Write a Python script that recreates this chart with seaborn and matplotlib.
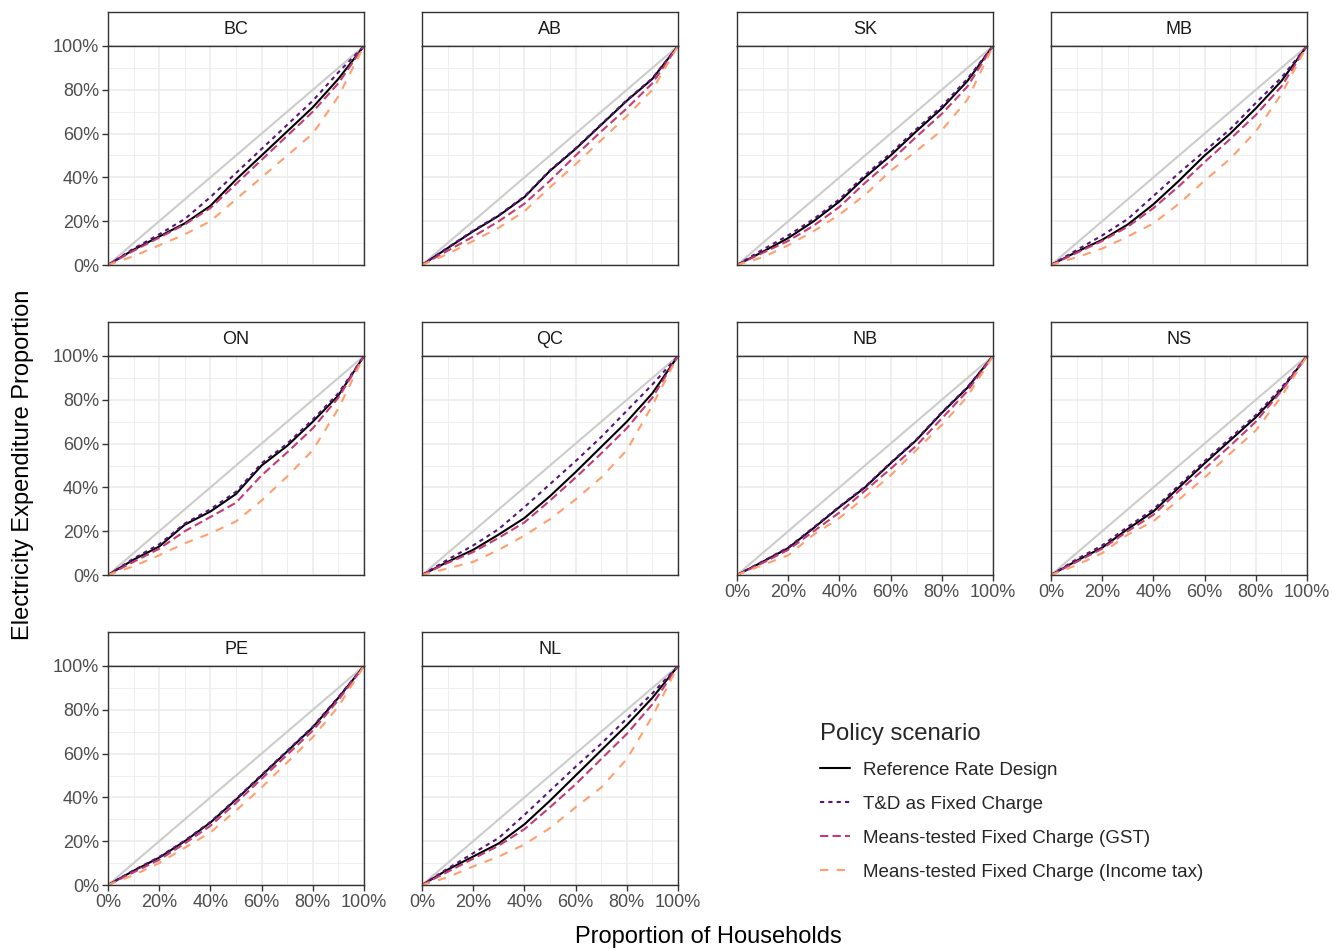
import numpy as np
import pandas as pd
import matplotlib
matplotlib.use("Agg")
import matplotlib.pyplot as plt
from matplotlib.ticker import PercentFormatter, MultipleLocator
from matplotlib.colors import to_hex
import seaborn as sns

# ---------------- data ----------------
provinces = ["BC", "AB", "SK", "MB", "ON", "QC", "NB", "NS", "PE", "NL"]
household_share = [0.0, 0.1, 0.2, 0.3, 0.4, 0.5, 0.6, 0.7, 0.8, 0.9, 1.0]
scenarios = ["Reference Rate Design", "T&D as Fixed Charge",
             "Means-tested Fixed Charge (GST)", "Means-tested Fixed Charge (Income tax)"]

reference = {
    "BC": [0, .07, .13, .19, .27, .39, .50, .61, .72, .85, 1],
    "AB": [0, .077, .154, .225, .31, .43, .53, .64, .75, .85, 1],
    "SK": [0, .06, .123, .20, .29, .40, .50, .61, .715, .84, 1],
    "MB": [0, .06, .115, .185, .277, .385, .50, .60, .715, .84, 1],
    "ON": [0, .07, .13, .23, .29, .37, .50, .59, .70, .82, 1],
    "QC": [0, .06, .115, .185, .26, .36, .47, .585, .70, .83, 1],
    "NB": [0, .06, .123, .215, .31, .40, .51, .615, .74, .855, 1],
    "NS": [0, .065, .125, .21, .29, .40, .51, .615, .72, .845, 1],
    "PE": [0, .065, .125, .20, .285, .39, .50, .61, .72, .855, 1],
    "NL": [0, .07, .13, .19, .277, .385, .50, .615, .73, .855, 1],
}
td_fixed = {
    "BC": [0, .075, .14, .21, .31, .42, .53, .64, .75, .88, 1],
    "AB": [0, .079, .157, .228, .313, .433, .533, .643, .753, .853, 1],
    "SK": [0, .07, .135, .21, .30, .41, .51, .62, .725, .85, 1],
    "MB": [0, .068, .135, .21, .315, .42, .52, .62, .74, .855, 1],
    "ON": [0, .075, .14, .235, .30, .38, .51, .60, .71, .83, 1],
    "QC": [0, .07, .135, .21, .31, .415, .52, .63, .75, .87, 1],
    "NB": [0, .062, .126, .218, .313, .403, .513, .618, .743, .858, 1],
    "NS": [0, .072, .135, .22, .30, .41, .52, .625, .73, .855, 1],
    "PE": [0, .067, .128, .203, .288, .393, .503, .613, .723, .858, 1],
    "NL": [0, .075, .145, .215, .32, .43, .54, .645, .76, .875, 1],
}
gst_fixed = {
    "BC": [0, .065, .125, .185, .26, .37, .48, .59, .70, .83, 1],
    "AB": [0, .065, .13, .20, .28, .385, .50, .61, .715, .83, 1],
    "SK": [0, .055, .11, .18, .265, .375, .475, .585, .69, .815, 1],
    "MB": [0, .055, .11, .175, .26, .36, .47, .575, .685, .815, 1],
    "ON": [0, .06, .12, .20, .265, .33, .455, .56, .67, .81, 1],
    "QC": [0, .055, .105, .17, .24, .34, .445, .555, .67, .81, 1],
    "NB": [0, .055, .115, .20, .285, .385, .485, .59, .715, .84, 1],
    "NS": [0, .06, .12, .20, .275, .385, .485, .59, .70, .84, 1],
    "PE": [0, .058, .115, .19, .27, .375, .485, .595, .705, .845, 1],
    "NL": [0, .06, .12, .18, .255, .355, .46, .575, .69, .825, 1],
}
income_fixed = {
    "BC": [0, .04, .09, .14, .20, .30, .40, .50, .60, .77, 1],
    "AB": [0, .05, .11, .17, .245, .355, .46, .57, .68, .80, 1],
    "SK": [0, .035, .09, .155, .23, .32, .43, .52, .615, .755, 1],
    "MB": [0, .035, .075, .13, .19, .28, .385, .485, .61, .78, 1],
    "ON": [0, .04, .09, .145, .19, .245, .34, .45, .57, .76, 1],
    "QC": [0, .03, .06, .115, .18, .255, .345, .445, .57, .775, 1],
    "NB": [0, .045, .09, .185, .26, .355, .455, .57, .685, .815, 1],
    "NS": [0, .045, .10, .185, .245, .345, .445, .555, .66, .815, 1],
    "PE": [0, .045, .10, .17, .24, .34, .445, .56, .675, .815, 1],
    "NL": [0, .035, .085, .13, .185, .26, .355, .445, .575, .77, 1],
}

series = dict(zip(scenarios, [reference, td_fixed, gst_fixed, income_fixed]))
rows = []
for sc, d in series.items():
    for p in provinces:
        for xv, yv in zip(household_share, d[p]):
            rows.append((p, sc, xv, yv))
df = pd.DataFrame(rows, columns=["province", "scenario", "households", "expenditure"])
equality = pd.DataFrame({"households": [0.0, 1.0], "expenditure": [0.0, 1.0]})

magma = matplotlib.colormaps["magma"]
palette = dict(zip(scenarios, [to_hex(magma(v)) for v in (0.0, 0.267, 0.533, 0.8)]))
dashes = dict(zip(scenarios, ["", (2, 2), (4, 2), (4, 4)]))

# ---------------- figure ----------------
sns.set_theme(style="white")
plt.rcParams["font.family"] = ["Liberation Sans", "DejaVu Sans"]
W, H = 1332, 950
fig = plt.figure(figsize=(W / 100, H / 100), dpi=100)

col_left = [108, 422, 737, 1051]
panel_w = 256
strip_top = [12, 322, 632]
strip_h = 34
panel_h = 219

def fr(x, y, w, h):
    return [x / W, 1 - (y + h) / H, w / W, h / H]

handles = labels = None
for i, p in enumerate(provinces):
    r, c = divmod(i, 4)
    x0 = col_left[c]
    ys = strip_top[r]
    # strip
    sax = fig.add_axes(fr(x0, ys, panel_w, strip_h))
    sax.set_xticks([]); sax.set_yticks([])
    sax.set_facecolor("white")
    for s in sax.spines.values():
        s.set_color("#333333"); s.set_linewidth(1.0)
    sax.text(0.5, 0.5, p, ha="center", va="center", fontsize=13, color="#1a1a1a",
             transform=sax.transAxes)
    # panel
    ax = fig.add_axes(fr(x0, ys + strip_h, panel_w, panel_h))
    ax.set_facecolor("white")
    ax.set_xlim(0, 1); ax.set_ylim(0, 1)
    ax.xaxis.set_major_locator(MultipleLocator(0.2))
    ax.yaxis.set_major_locator(MultipleLocator(0.2))
    ax.xaxis.set_minor_locator(MultipleLocator(0.1))
    ax.yaxis.set_minor_locator(MultipleLocator(0.1))
    ax.grid(which="major", color="#ebebeb", linewidth=1.1)
    ax.grid(which="minor", color="#ebebeb", linewidth=0.6)
    ax.set_axisbelow(True)
    sns.lineplot(data=equality, x="households", y="expenditure", ax=ax,
                 color="#cccccc", linewidth=1.5)
    sub = df[df["province"] == p]
    sns.lineplot(data=sub, x="households", y="expenditure", hue="scenario",
                 style="scenario", hue_order=scenarios, style_order=scenarios,
                 palette=palette, dashes=dashes, linewidth=1.5, ax=ax,
                 legend=(i == 0))
    if i == 0:
        handles, labels = ax.get_legend_handles_labels()
        ax.get_legend().remove()
    for s in ax.spines.values():
        s.set_color("#333333"); s.set_linewidth(1.0)
        s.set_visible(True)
    ax.set_xlabel(""); ax.set_ylabel("")
    ax.xaxis.set_major_formatter(PercentFormatter(1.0, decimals=0))
    ax.yaxis.set_major_formatter(PercentFormatter(1.0, decimals=0))
    show_x = (r == 2) or (r == 1 and c >= 2)
    show_y = (c == 0)
    ax.tick_params(axis="x", which="major", bottom=show_x, labelbottom=show_x,
                   length=4, width=1.0, color="#333333", labelsize=13,
                   labelcolor="#4d4d4d", pad=2.5)
    ax.tick_params(axis="y", which="major", left=show_y, labelleft=show_y,
                   length=4, width=1.0, color="#333333", labelsize=13,
                   labelcolor="#4d4d4d", pad=2.5)
    ax.tick_params(which="minor", bottom=False, left=False)

fig.text(708 / W, 1 - 937 / H, "Proportion of Households", ha="center", va="center",
         fontsize=17, color="black")
fig.text(23 / W, 1 - 465 / H, "Electricity Expenditure Proportion", ha="center",
         va="center", rotation=90, fontsize=17, color="black")

leg = fig.legend(handles, labels, loc="upper left",
                 bbox_to_anchor=(803 / W, 1 - 706 / H), frameon=False,
                 title="Policy scenario", fontsize=13.5, title_fontsize=17.2,
                 handlelength=1.6, handletextpad=0.72, labelspacing=0.9,
                 alignment="left")
leg.get_title().set_y(0)
for lh in leg.get_lines():
    lh.set_linewidth(1.5)

fig.savefig("out.png", dpi=100, facecolor="white")
